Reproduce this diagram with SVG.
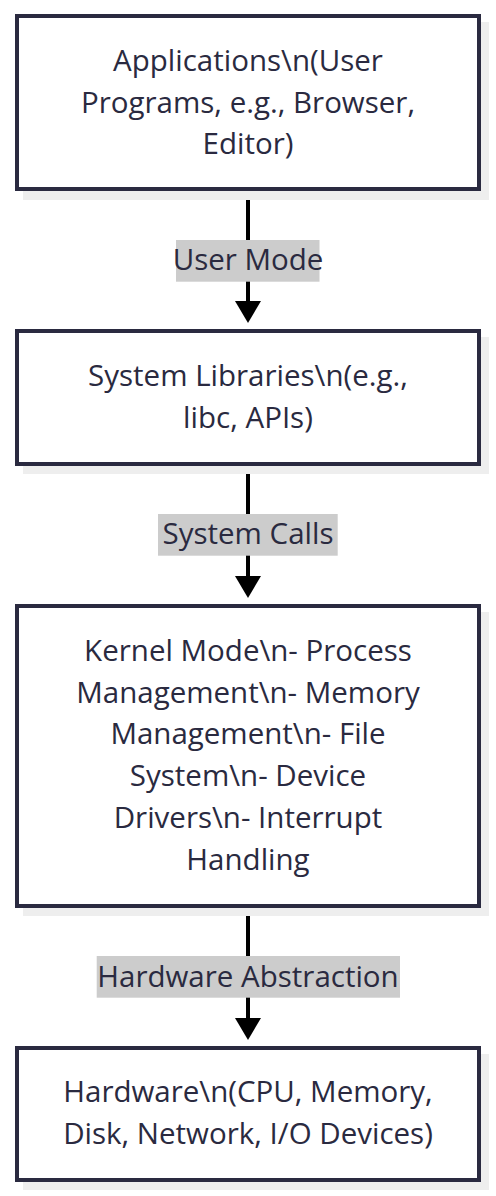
<svg xmlns="http://www.w3.org/2000/svg" width="496" height="1196" viewBox="0 0 496 1196">
  <style>
    .shadow { fill: #eeeeee; }
    .box { fill: #ffffff; stroke: #2a2a40; stroke-width: 4; }
    .txt { font-family: "Open Sans", "Noto Sans", sans-serif; font-size: 29.5px; fill: #2a2a40; text-anchor: middle; }
    .edge { stroke: #000000; stroke-width: 4; fill: none; }
    .lblbg { fill: #cccccc; }
  </style>
  <defs>
    <marker id="arrow" viewBox="0 0 22 26" refX="0" refY="13" markerWidth="22" markerHeight="26" markerUnits="userSpaceOnUse" orient="auto">
      <path d="M0,0 L22,13 L0,26 z" fill="#000000"/>
    </marker>
  </defs>
  <rect width="496" height="1196" fill="#ffffff"/>

  <g id="connectors">
    <g id="edge-apps-libs">
      <path class="edge" d="M248,190 L248,301" marker-end="url(#arrow)"/>
      <rect class="lblbg" x="176" y="240" width="143.5" height="41.7"/>
      <text class="txt" x="248" y="270">User Mode</text>
    </g>
    <g id="edge-libs-kernel">
      <path class="edge" d="M248,465 L248,576" marker-end="url(#arrow)"/>
      <rect class="lblbg" x="158" y="514" width="179.7" height="41.7"/>
      <text class="txt" x="248" y="544">System Calls</text>
    </g>
    <g id="edge-kernel-hw">
      <path class="edge" d="M248,907 L248,1018" marker-end="url(#arrow)"/>
      <rect class="lblbg" x="96.7" y="956" width="303.3" height="41.7"/>
      <text class="txt" x="248" y="986.5">Hardware Abstraction</text>
    </g>
  </g>

  <g id="node-applications">
    <rect class="shadow" x="23" y="22" width="466" height="178"/>
    <rect class="box" x="17" y="16" width="462" height="173"/>
    <text class="txt" x="248" y="70.5">Applications\n(User</text>
    <text class="txt" x="248" y="112.5">Programs, e.g., Browser,</text>
    <text class="txt" x="248" y="153.5">Editor)</text>
  </g>

  <g id="node-libraries">
    <rect class="shadow" x="23" y="337" width="466" height="137"/>
    <rect class="box" x="17" y="331" width="462" height="133"/>
    <text class="txt" x="248" y="385.5">System Libraries\n(e.g.,</text>
    <text class="txt" x="248" y="427.5">libc, APIs)</text>
  </g>

  <g id="node-kernel">
    <rect class="shadow" x="23" y="612" width="466" height="304"/>
    <rect class="box" x="17" y="606" width="462" height="300"/>
    <text class="txt" x="248" y="660.5">Kernel Mode\n- Process</text>
    <text class="txt" x="248" y="702.5">Management\n- Memory</text>
    <text class="txt" x="248" y="744">Management\n- File</text>
    <text class="txt" x="248" y="785.5">System\n- Device</text>
    <text class="txt" x="248" y="827.5">Drivers\n- Interrupt</text>
    <text class="txt" x="248" y="869.5">Handling</text>
  </g>

  <g id="node-hardware">
    <rect class="shadow" x="23" y="1054" width="466" height="136"/>
    <rect class="box" x="17" y="1048" width="462" height="132"/>
    <text class="txt" x="248" y="1102">Hardware\n(CPU, Memory,</text>
    <text class="txt" x="248" y="1143.5">Disk, Network, I/O Devices)</text>
  </g>
</svg>
